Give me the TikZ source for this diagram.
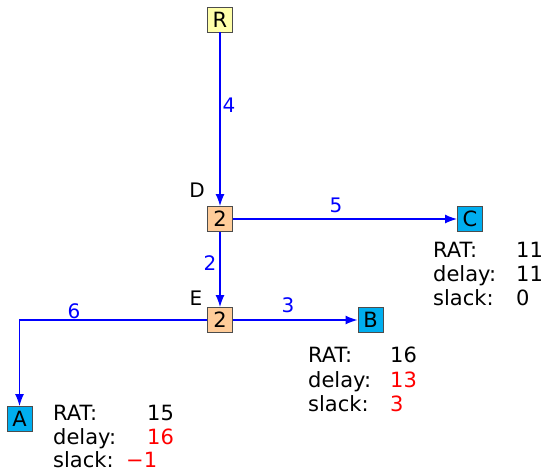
\documentclass[tikz,border=0pt]{standalone}
\usepackage{fontspec}
\setmainfont{DejaVu Sans}
\usetikzlibrary{arrows.meta}
\definecolor{srcfill}{RGB}{255,255,170}
\definecolor{gatefill}{RGB}{255,204,153}
\definecolor{sinkfill}{RGB}{0,174,239}
\definecolor{wireblue}{RGB}{0,0,255}
\definecolor{badred}{RGB}{255,0,0}
\begin{document}
\begin{tikzpicture}[x=1pt,y=-1pt,
  box/.style={draw=black!70,line width=0.8pt,minimum size=25pt,inner sep=0pt,font=\fontsize{21}{21}\selectfont},
  srcbox/.style={box,fill=srcfill},
  gatebox/.style={box,fill=gatefill},
  sinkbox/.style={box,fill=sinkfill},
  wire/.style={draw=wireblue,line width=1.5pt,-{Latex[length=12pt,width=9pt]}},
  wlabel/.style={text=wireblue,font=\fontsize{20}{20}\selectfont,inner sep=0pt},
  nlabel/.style={font=\fontsize{20}{20}\selectfont,inner sep=0pt},
  info/.style={anchor=base west,font=\fontsize{21}{21}\selectfont,inner sep=0pt},
  bad/.style={info,text=badred}]
\useasboundingbox (0,0) rectangle (543,472);

% cells
\node[srcbox]  (R) at (220,19.5) {R};
\node[gatebox] (D) at (220,219) {2};
\node[gatebox] (E) at (220,320) {2};
\node[sinkbox] (B) at (370.5,320) {B};
\node[sinkbox] (C) at (470,219) {C};
\node[sinkbox] (A) at (19.5,419) {A};

\node[nlabel] (Dl) at (197,190) {D};
\node[nlabel] (El) at (196,298) {E};

% wires
\coordinate (corner) at (A |- E);
\draw[wire] (R) -- (D);
\draw[wire] (D) -- (C);
\draw[wire] (D) -- (E);
\draw[wire] (E) -- (B);
\draw[wire] (E.west) -- (corner) -- (A);

% wire delays
\node[wlabel] (w4) at (229,105) {4};
\node[wlabel] (w5) at (336,205) {5};
\node[wlabel] (w2) at (210,263) {2};
\node[wlabel] (w3) at (288,305) {3};
\node[wlabel] (w6) at (74,311) {6};

% timing at C
\node[info] (cR) at (433,257) {RAT:};
\node[info] (cD) at (433,281) {delay:};
\node[info] (cS) at (433,305) {slack:};
\node[info] (cRv) at (516,257) {11};
\node[info] (cDv) at (516,281) {11};
\node[info] (cSv) at (516,305) {0};

% timing at B
\node[info] (bR) at (308,362) {RAT:};
\node[info] (bD) at (308,387) {delay:};
\node[info] (bS) at (308,411) {slack:};
\node[info] (bRv) at (390,362) {16};
\node[bad]  (bDv) at (390,387) {13};
\node[bad]  (bSv) at (390,411) {3};

% timing at A
\node[info] (aR) at (53,420) {RAT:};
\node[info] (aD) at (53,444) {delay:};
\node[info] (aS) at (53,467) {slack:};
\node[info] (aRv) at (147,420) {15};
\node[bad]  (aDv) at (147,444) {16};
\node[bad]  (aSv) at (126,467) {−1};
\end{tikzpicture}
\end{document}
